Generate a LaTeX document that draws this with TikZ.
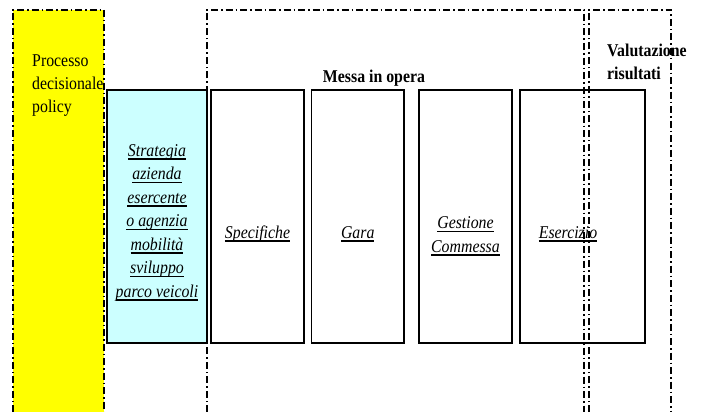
\documentclass[tikz,border=0pt]{standalone}
\usepackage{fontspec}
\setmainfont{Liberation Serif}[FakeStretch=0.88]
\usetikzlibrary{positioning}
\definecolor{policyyellow}{RGB}{255,255,0}
\definecolor{stratcyan}{RGB}{204,255,255}
\newcommand\undl[1]{\setbox0\hbox{#1}\rlap{\rule[-3.8pt]{\wd0}{1.7pt}}\box0}
\tikzset{phasebox/.style={draw, line width=1.3pt, minimum height=253pt, inner sep=0pt},
phasetext/.style={anchor=base, align=center, inner sep=0pt, font=\fontsize{18}{23.5}\selectfont\itshape},
framedash/.style={line width=1.2pt, dash pattern=on 7pt off 3pt on 1.5pt off 3pt},
heading/.style={font=\fontsize{18}{23}\selectfont\bfseries, align=left, inner sep=0pt}}

\begin{document}
\begin{tikzpicture}[x=1pt, y=-1pt, node distance=4pt]
\useasboundingbox (0,0) rectangle (704,412);
% policy column
\fill[policyyellow] (13,10) rectangle (104,412);
\node[anchor=base west, align=left, inner sep=0pt, font=\fontsize{18}{23}\selectfont] (policy) at (32,112)
 {Processo\\decisionale\\policy};
% phases
\node[phasebox, fill=stratcyan, minimum width=100pt] (strategia) at (157,216.5) {};
\node[phasebox, minimum width=93pt, right=2.7pt of strategia] (specifiche) {};
\node[phasebox, minimum width=92.5pt, right=6.2pt of specifiche] (gara) {};
\node[phasebox, minimum width=93pt, right=13.7pt of gara] (gestione) {};
\node[phasebox, minimum width=125pt, right=6.7pt of gestione] (esercizio) {};
\node[phasetext] (strategia text) at (strategia.center |- 0,297)
 {\undl{Strategia}\\\undl{azienda}\\\undl{esercente}\\\undl{o agenzia}\\\undl{mobilità}\\\undl{sviluppo}\\\undl{parco veicoli}};
\node[phasetext] (specifiche text) at (specifiche.center |- 0,238) {\undl{Specifiche}};
\node[phasetext] (gara text) at (gara.center |- 0,238) {\undl{Gara}};
\node[phasetext] (gestione text) at (gestione.center |- 0,252) {\undl{Gestione}\\\undl{Commessa}};
\node[phasetext] (esercizio text) at (568,238) {\undl{Esercizio}};
% frames
\draw[framedash] (13,412) -- (13,10) -- (104,10) -- (104,412);
\draw[framedash] (207,412) -- (207,10) -- (584,10) -- (584,412);
\draw[framedash] (589,412) -- (589,10) -- (671,10) -- (671,412);
\node[heading, anchor=base] (messa) at (374,82) {Messa in opera};
\node[heading, anchor=base west] (valutazione) at (607,80) {Valutazione\\risultati};
\end{tikzpicture}
\end{document}
